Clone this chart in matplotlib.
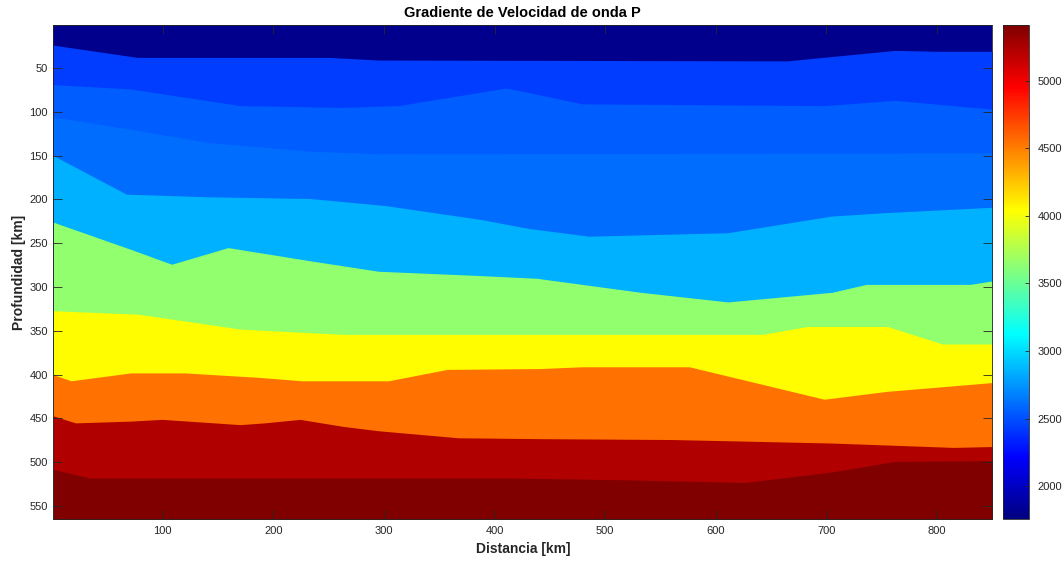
import numpy as np
import matplotlib.pyplot as plt
from matplotlib.colors import LinearSegmentedColormap, Normalize
from matplotlib.cm import ScalarMappable

plt.rcParams['font.family'] = ['Liberation Sans', 'DejaVu Sans']

# model extent (km)
x_min, x_max = 1, 850
depth_top, depth_max = 1, 565

# layer boundaries: distance [km] and depth [km], top to bottom
x_b1 = [1, 77, 251, 295, 664, 762, 799, 850]
d_b1 = [24, 38, 38, 41, 42, 30, 31, 31]

x_b2 = [1, 71, 170, 263, 313, 410, 423, 479, 698, 762, 850]
d_b2 = [69, 74, 93, 95, 93, 73, 76, 91, 93, 87, 97]

x_b3 = [1, 71, 140, 233, 295, 850]
d_b3 = [106, 120, 135, 145, 148, 147]

x_b4 = [1, 67, 140, 233, 301, 388, 430, 485, 611, 705, 755, 850]
d_b4 = [150, 194, 197, 199, 207, 223, 233, 242, 238, 219, 215, 209]

x_b5 = [1, 71, 108, 159, 233, 295, 388, 438, 532, 611, 705, 736, 830, 850]
d_b5 = [226, 257, 274, 255, 270, 282, 287, 290, 306, 317, 306, 297, 297, 293]

x_b6 = [1, 77, 89, 170, 263, 642, 683, 755, 805, 850]
d_b6 = [327, 331, 333, 348, 354, 354, 345, 345, 365, 365]

x_b7 = [1, 17, 71, 120, 186, 226, 304, 357, 441, 479, 576, 698, 755, 850]
d_b7 = [400, 407, 398, 398, 403, 407, 407, 394, 393, 391, 391, 428, 419, 409]

x_b8 = [1, 21, 71, 99, 170, 192, 224, 263, 295, 367, 441, 561, 705, 815, 850]
d_b8 = [447, 455, 453, 451, 457, 455, 451, 459, 464, 472, 473, 474, 478, 483, 482]

x_b9 = [1, 34, 420, 520, 626, 705, 762, 850]
d_b9 = [508, 518, 518, 520, 523, 511, 499, 498]

# P-wave velocity of each layer (m/s), top to bottom
v_layers = [1800, 2440, 2545, 2610, 2850, 3650, 4050, 4550, 5230, 5410]
v_min, v_max = 1756, 5412

boundaries = [(x_b1, d_b1), (x_b2, d_b2), (x_b3, d_b3), (x_b4, d_b4),
              (x_b5, d_b5), (x_b6, d_b6), (x_b7, d_b7), (x_b8, d_b8),
              (x_b9, d_b9)]

# matlab style jet
jet_m = LinearSegmentedColormap('jet_m', {
    'red':   [(0, 0, 0), (0.375, 0, 0), (0.625, 1, 1), (0.875, 1, 1), (1, 0.5, 0.5)],
    'green': [(0, 0, 0), (0.125, 0, 0), (0.375, 1, 1), (0.625, 1, 1), (0.875, 0, 0), (1, 0, 0)],
    'blue':  [(0, 0.5, 0.5), (0.125, 1, 1), (0.375, 1, 1), (0.625, 0, 0), (1, 0, 0)],
}, N=256)
norm = Normalize(v_min, v_max)
colors = [jet_m(norm(v)) for v in v_layers]

fig = plt.figure(figsize=(10.64, 5.65), dpi=100)
ax = fig.add_axes([0.0501, 0.0809, 0.8825, 0.8749])
cax = fig.add_axes([0.9424, 0.0809, 0.0247, 0.8749])

ax.fill_between([x_min, x_max], depth_top, depth_max, color=colors[0], lw=0)
for (bx, bd), c in zip(boundaries, colors[1:]):
    ax.fill_between(bx, bd, depth_max, color=c, lw=0)

ax.set_xlim(x_min, x_max)
ax.set_ylim(depth_max, depth_top)
ax.set_xticks(range(100, 801, 100))
ax.set_yticks(range(50, 551, 50))

dark = (0.15, 0.15, 0.15)
ax.tick_params(direction='in', length=6.8, width=0.6, top=True, right=True,
               labelsize=8, color=dark, labelcolor=dark)
ax.tick_params(axis='x', pad=5)
ax.tick_params(axis='y', pad=4)
for s in ax.spines.values():
    s.set_color(dark)
    s.set_linewidth(0.6)

ax.set_title('Gradiente de Velocidad de onda P', fontsize=10.5, fontweight='bold', pad=6)
ax.set_xlabel('Distancia [km]', fontsize=10, fontweight='bold', color=dark, labelpad=4)
ax.set_ylabel('Profundidad [km]', fontsize=10, fontweight='bold', color=dark, labelpad=2)

sm = ScalarMappable(norm=norm, cmap=jet_m)
cb = fig.colorbar(sm, cax=cax, ticks=range(2000, 5001, 500))
cb.ax.tick_params(labelsize=8, direction='in', length=3, width=0.6, pad=6,
                  color=dark, labelcolor=dark)
cb.outline.set_linewidth(0.6)
cb.outline.set_edgecolor(dark)

fig.savefig('out.png', dpi=100)
